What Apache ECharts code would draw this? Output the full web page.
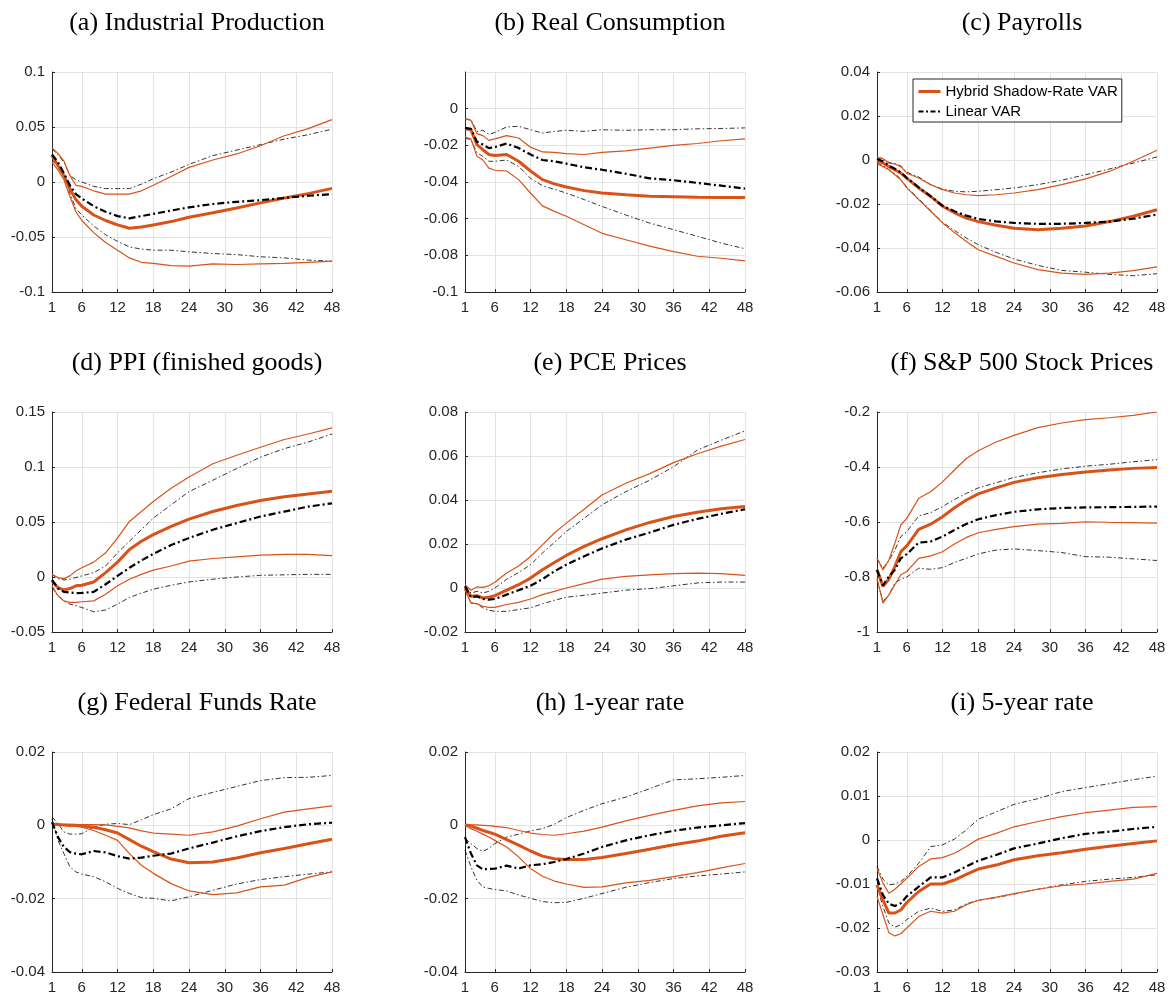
<!DOCTYPE html>
<html>
<head>
<meta charset="utf-8">
<title>Impulse responses</title>
<script src="https://cdn.jsdelivr.net/npm/echarts@6/dist/echarts.min.js"></script>
<style>
  html, body { margin: 0; padding: 0; background: #fff; }
  #chart { width: 1172px; height: 999px; }
</style>
</head>
<body>
<div id="chart"></div>
<script>
const horizons = [1, 2, 3, 4, 5, 6, 8, 10, 12, 14, 16, 18, 21, 24, 28, 32, 36, 40, 44, 48];
const xTicks = [1, 6, 12, 18, 24, 30, 36, 42, 48];

const titles = [
  '(a) Industrial Production', '(b) Real Consumption', '(c) Payrolls',
  '(d) PPI (finished goods)', '(e) PCE Prices', '(f) S&P 500 Stock Prices',
  '(g) Federal Funds Rate', '(h) 1-year rate', '(i) 5-year rate'
];

// y axis ranges: [min, max, step]
const yRanges = [
  [-0.1, 0.1, 0.05], [-0.1, 0.02, 0.02], [-0.06, 0.04, 0.02],
  [-0.05, 0.15, 0.05], [-0.02, 0.08, 0.02], [-1, -0.2, 0.2],
  [-0.04, 0.02, 0.02], [-0.04, 0.02, 0.02], [-0.03, 0.02, 0.01]
];

// (a) Industrial Production
const ipHybrid   = [0.024, 0.015, 0.006, -0.006, -0.016, -0.022, -0.030, -0.035, -0.039, -0.042, -0.041, -0.039, -0.036, -0.032, -0.028, -0.0236, -0.019, -0.0145, -0.0106, -0.0058];
const ipHybridHi = [0.031, 0.026, 0.019, 0.006, -0.003, -0.004, -0.008, -0.011, -0.011, -0.011, -0.008, -0.003, 0.005, 0.0133, 0.020, 0.0255, 0.033, 0.042, 0.0485, 0.0567];
const ipHybridLo = [0.018, 0.011, 0.002, -0.013, -0.027, -0.035, -0.046, -0.055, -0.062, -0.069, -0.073, -0.074, -0.076, -0.0765, -0.0745, -0.075, -0.0745, -0.074, -0.073, -0.072];
const ipLinear   = [0.025, 0.018, 0.008, -0.003, -0.011, -0.015, -0.022, -0.027, -0.031, -0.033, -0.031, -0.029, -0.026, -0.023, -0.020, -0.018, -0.0165, -0.0145, -0.0125, -0.011];
const ipLinearHi = [0.030, 0.025, 0.018, 0.006, 0.002, 0.000, -0.004, -0.006, -0.006, -0.006, -0.002, 0.003, 0.009, 0.016, 0.024, 0.029, 0.034, 0.039, 0.043, 0.048];
const ipLinearLo = [0.020, 0.014, 0.005, -0.010, -0.024, -0.030, -0.040, -0.048, -0.054, -0.059, -0.061, -0.062, -0.062, -0.0635, -0.065, -0.066, -0.068, -0.069, -0.071, -0.072];

// (b) Real Consumption
const rcHybrid   = [-0.011, -0.0115, -0.0196, -0.0224, -0.025, -0.0255, -0.025, -0.0287, -0.034, -0.0387, -0.041, -0.0427, -0.0447, -0.046, -0.047, -0.0478, -0.048, -0.0483, -0.0484, -0.0484];
const rcHybridHi = [-0.0056, -0.0064, -0.0136, -0.0147, -0.0173, -0.0165, -0.0147, -0.016, -0.021, -0.0236, -0.0238, -0.0245, -0.025, -0.0238, -0.023, -0.0215, -0.020, -0.019, -0.0175, -0.0165];
const rcHybridLo = [-0.0155, -0.0165, -0.026, -0.028, -0.0324, -0.0336, -0.034, -0.0387, -0.046, -0.053, -0.056, -0.0587, -0.0633, -0.068, -0.0715, -0.075, -0.078, -0.0805, -0.0816, -0.083];
const rcLinear   = [-0.0105, -0.011, -0.018, -0.0196, -0.0215, -0.021, -0.019, -0.0215, -0.025, -0.028, -0.0287, -0.030, -0.032, -0.0333, -0.0355, -0.038, -0.039, -0.0405, -0.042, -0.0436];
const rcLinearHi = [-0.0056, -0.006, -0.0124, -0.0118, -0.014, -0.013, -0.010, -0.0096, -0.0115, -0.0133, -0.0124, -0.0118, -0.0124, -0.0115, -0.0118, -0.0115, -0.0115, -0.011, -0.0108, -0.0105];
const rcLinearLo = [-0.016, -0.017, -0.024, -0.026, -0.0287, -0.0287, -0.028, -0.0315, -0.038, -0.042, -0.044, -0.046, -0.0496, -0.0533, -0.058, -0.0624, -0.066, -0.0696, -0.0733, -0.0764];

// (c) Payrolls
const prHybrid   = [-0.0003, -0.0014, -0.003, -0.0044, -0.006, -0.0082, -0.0127, -0.0165, -0.021, -0.024, -0.0264, -0.028, -0.0297, -0.031, -0.0317, -0.031, -0.030, -0.028, -0.0256, -0.0226];
const prHybridHi = [0.0012, 0.0006, -0.0014, -0.0018, -0.003, -0.006, -0.0082, -0.0112, -0.0135, -0.015, -0.0158, -0.0162, -0.0158, -0.015, -0.0135, -0.0112, -0.0086, -0.0052, -0.0006, 0.0044];
const prHybridLo = [-0.0017, -0.003, -0.0044, -0.0067, -0.009, -0.0127, -0.018, -0.0233, -0.0286, -0.033, -0.037, -0.0408, -0.0438, -0.0468, -0.0498, -0.0514, -0.052, -0.0514, -0.0503, -0.0486];
const prLinear   = [0.0005, -0.0006, -0.0026, -0.004, -0.0056, -0.0082, -0.0124, -0.0165, -0.0208, -0.0233, -0.0253, -0.0268, -0.0279, -0.0286, -0.029, -0.029, -0.0286, -0.028, -0.0267, -0.0248];
const prLinearHi = [0.0012, 0.0006, -0.0011, -0.0017, -0.0026, -0.0056, -0.0077, -0.0112, -0.0132, -0.0142, -0.0145, -0.0142, -0.0135, -0.0127, -0.0112, -0.0092, -0.0067, -0.0041, -0.0014, 0.0014];
const prLinearLo = [-0.0014, -0.0026, -0.0044, -0.0062, -0.0086, -0.0124, -0.0176, -0.0229, -0.0283, -0.032, -0.0355, -0.0385, -0.042, -0.045, -0.0479, -0.0502, -0.051, -0.052, -0.0526, -0.0517];

// (d) PPI (finished goods)
const ppHybrid   = [-0.0036, -0.0096, -0.0117, -0.0105, -0.008, -0.0075, -0.0045, 0.004, 0.0135, 0.025, 0.0325, 0.0385, 0.046, 0.0526, 0.0595, 0.065, 0.0695, 0.073, 0.0755, 0.078];
const ppHybridHi = [0.0024, -0.0005, -0.0015, 0.001, 0.0054, 0.0084, 0.0135, 0.022, 0.0355, 0.0505, 0.0595, 0.0686, 0.0806, 0.091, 0.103, 0.1107, 0.118, 0.125, 0.130, 0.1356];
const ppHybridLo = [-0.008, -0.017, -0.0217, -0.023, -0.023, -0.0225, -0.0217, -0.0156, -0.008, -0.002, 0.0024, 0.0063, 0.010, 0.0144, 0.0168, 0.0183, 0.0198, 0.0205, 0.0205, 0.0195];
const ppLinear   = [-0.0027, -0.0105, -0.0135, -0.0141, -0.0147, -0.0145, -0.0135, -0.0066, 0.001, 0.0084, 0.015, 0.021, 0.029, 0.0355, 0.043, 0.049, 0.055, 0.0595, 0.064, 0.067];
const ppLinearHi = [0.0024, -0.0015, -0.0027, -0.002, -0.0005, 0.001, 0.004, 0.010, 0.022, 0.0325, 0.043, 0.0535, 0.0656, 0.0776, 0.088, 0.0986, 0.109, 0.1167, 0.1227, 0.130];
const ppLinearLo = [-0.0096, -0.017, -0.0217, -0.0247, -0.026, -0.0277, -0.0316, -0.030, -0.0247, -0.0186, -0.0147, -0.0111, -0.0075, -0.0045, -0.002, 0.0, 0.0015, 0.002, 0.0024, 0.0024];

// (e) PCE Prices
const pcHybrid   = [0.0, -0.0038, -0.0035, -0.0045, -0.0042, -0.0035, -0.001, 0.0015, 0.0045, 0.0083, 0.0116, 0.0148, 0.0189, 0.0224, 0.0264, 0.0298, 0.0325, 0.0344, 0.036, 0.037];
const pcHybridHi = [0.0015, -0.001, 0.0005, 0.0003, 0.001, 0.0026, 0.0068, 0.010, 0.0143, 0.0196, 0.025, 0.0295, 0.0358, 0.0423, 0.0476, 0.052, 0.057, 0.061, 0.0645, 0.0675];
const pcHybridLo = [-0.0008, -0.0068, -0.0072, -0.0083, -0.0088, -0.0088, -0.0075, -0.0065, -0.005, -0.003, -0.0015, 0.0, 0.002, 0.004, 0.0053, 0.006, 0.0065, 0.0068, 0.0065, 0.0057];
const pcLinear   = [0.0008, -0.0042, -0.0038, -0.005, -0.0053, -0.005, -0.003, -0.001, 0.001, 0.004, 0.0076, 0.0106, 0.0144, 0.018, 0.022, 0.0252, 0.0287, 0.0314, 0.0337, 0.0358];
const pcLinearHi = [0.0008, -0.0023, -0.0015, -0.0023, -0.0015, 0.0, 0.004, 0.007, 0.0106, 0.0159, 0.0207, 0.0257, 0.0317, 0.0378, 0.0438, 0.049, 0.0551, 0.0627, 0.0672, 0.0714];
const pcLinearLo = [-0.0011, -0.0068, -0.0071, -0.009, -0.0101, -0.0106, -0.0106, -0.0098, -0.009, -0.0072, -0.0056, -0.0042, -0.0033, -0.0023, -0.001, -0.0003, 0.001, 0.0023, 0.0027, 0.0027];

// (f) S&P 500 Stock Prices
const spHybrid   = [-0.774, -0.834, -0.808, -0.762, -0.708, -0.687, -0.627, -0.608, -0.581, -0.548, -0.520, -0.498, -0.476, -0.456, -0.439, -0.427, -0.418, -0.411, -0.405, -0.402];
const spHybridHi = [-0.732, -0.774, -0.738, -0.677, -0.611, -0.587, -0.514, -0.490, -0.454, -0.411, -0.369, -0.341, -0.309, -0.285, -0.257, -0.240, -0.228, -0.221, -0.212, -0.200];
const spHybridLo = [-0.804, -0.895, -0.865, -0.828, -0.792, -0.780, -0.732, -0.723, -0.708, -0.680, -0.656, -0.639, -0.627, -0.617, -0.608, -0.605, -0.599, -0.601, -0.602, -0.604];
const spLinear   = [-0.774, -0.831, -0.798, -0.774, -0.732, -0.717, -0.675, -0.671, -0.653, -0.629, -0.607, -0.590, -0.575, -0.563, -0.554, -0.549, -0.547, -0.546, -0.545, -0.544];
const spLinearHi = [-0.732, -0.768, -0.740, -0.702, -0.653, -0.635, -0.578, -0.566, -0.544, -0.518, -0.496, -0.476, -0.457, -0.438, -0.421, -0.407, -0.397, -0.390, -0.381, -0.373];
const spLinearLo = [-0.810, -0.889, -0.865, -0.822, -0.808, -0.800, -0.768, -0.772, -0.766, -0.747, -0.732, -0.716, -0.702, -0.698, -0.704, -0.711, -0.726, -0.728, -0.734, -0.740];

// (g) Federal Funds Rate
const ffHybrid   = [0.0003, 0.0002, 0.0001, 0.0, 0.0, -0.0001, -0.0005, -0.0012, -0.0021, -0.0039, -0.0057, -0.0072, -0.0092, -0.0102, -0.010, -0.0089, -0.0075, -0.0063, -0.005, -0.0038];
const ffHybridHi = [0.0003, 0.0003, 0.0003, 0.0003, 0.0002, 0.0002, 0.0002, 0.0001, -0.0003, -0.0007, -0.0015, -0.0021, -0.0024, -0.0027, -0.0018, -0.0002, 0.0018, 0.0036, 0.0045, 0.0053];
const ffHybridLo = [0.0, 0.0, 0.0, -0.0002, -0.0003, -0.0005, -0.0014, -0.0027, -0.0041, -0.0077, -0.0109, -0.0131, -0.0159, -0.0179, -0.0189, -0.0184, -0.0168, -0.0163, -0.0142, -0.0127];
const ffLinear   = [0.0009, -0.0032, -0.0059, -0.0073, -0.0077, -0.0079, -0.007, -0.0074, -0.0084, -0.0091, -0.0088, -0.0083, -0.0077, -0.0063, -0.0047, -0.003, -0.0016, -0.0005, 0.0003, 0.0007];
const ffLinearHi = [0.0023, 0.0005, -0.0018, -0.0024, -0.0024, -0.0023, -0.0005, 0.0003, 0.0005, 0.0002, 0.0015, 0.0029, 0.0045, 0.0073, 0.009, 0.0106, 0.0122, 0.013, 0.0131, 0.0136];
const ffLinearLo = [0.0018, -0.0041, -0.0077, -0.0113, -0.0127, -0.0133, -0.014, -0.0154, -0.0172, -0.0186, -0.0197, -0.0199, -0.0206, -0.0195, -0.0177, -0.016, -0.0148, -0.014, -0.0133, -0.0127];

// (h) 1-year rate
const y1Hybrid   = [0.0002, -0.0002, -0.0008, -0.0014, -0.0019, -0.0024, -0.0039, -0.0054, -0.007, -0.0084, -0.0091, -0.0093, -0.0093, -0.0088, -0.0077, -0.0065, -0.0053, -0.0043, -0.003, -0.002];
const y1HybridHi = [0.0002, 0.0001, 0.0001, 0.0, -0.0001, -0.0003, -0.0006, -0.0014, -0.0021, -0.0025, -0.0027, -0.0023, -0.0016, -0.0005, 0.0012, 0.0027, 0.0041, 0.0053, 0.0061, 0.0065];
const y1HybridLo = [0.0, -0.0009, -0.0016, -0.0024, -0.0032, -0.0041, -0.0059, -0.0086, -0.0118, -0.0139, -0.0152, -0.016, -0.0169, -0.0168, -0.0157, -0.015, -0.014, -0.0129, -0.0116, -0.0104];
const y1Linear   = [-0.0032, -0.0077, -0.0109, -0.012, -0.0119, -0.0118, -0.011, -0.0118, -0.0109, -0.0106, -0.010, -0.0092, -0.0077, -0.0059, -0.0041, -0.0027, -0.0015, -0.0006, 0.0, 0.0006];
const y1LinearHi = [-0.0036, -0.005, -0.0063, -0.0071, -0.0063, -0.005, -0.0032, -0.0024, -0.0015, -0.0009, 0.0003, 0.0021, 0.0041, 0.0059, 0.0077, 0.010, 0.0124, 0.0127, 0.0131, 0.0136];
const y1LinearLo = [-0.0068, -0.0113, -0.015, -0.0168, -0.0172, -0.0175, -0.0179, -0.019, -0.0199, -0.0208, -0.0211, -0.021, -0.0199, -0.0186, -0.0169, -0.0156, -0.0145, -0.0138, -0.0133, -0.0127];

// (i) 5-year rate
const y5Hybrid   = [-0.0102, -0.0136, -0.0166, -0.0166, -0.0159, -0.0142, -0.0117, -0.010, -0.010, -0.0091, -0.0078, -0.0066, -0.0057, -0.0045, -0.0036, -0.0029, -0.0021, -0.0014, -0.0008, -0.0002];
const y5HybridHi = [-0.0064, -0.0098, -0.0121, -0.0112, -0.010, -0.0087, -0.006, -0.0043, -0.004, -0.003, -0.0015, 0.0002, 0.0015, 0.003, 0.0042, 0.0053, 0.0062, 0.0068, 0.0074, 0.0076];
const y5HybridLo = [-0.0128, -0.017, -0.0211, -0.0218, -0.0213, -0.020, -0.0174, -0.0162, -0.0166, -0.0162, -0.0147, -0.0137, -0.013, -0.0122, -0.0112, -0.0104, -0.010, -0.0094, -0.0089, -0.0076];
const y5Linear   = [-0.0087, -0.0125, -0.0145, -0.015, -0.0144, -0.0128, -0.0106, -0.0085, -0.0085, -0.0074, -0.006, -0.0047, -0.0034, -0.0019, -0.0008, 0.0004, 0.0014, 0.0019, 0.0025, 0.003];
const y5LinearHi = [-0.006, -0.0089, -0.0102, -0.010, -0.0094, -0.0083, -0.0053, -0.0015, -0.0011, 0.0002, 0.0023, 0.0047, 0.0064, 0.0081, 0.0094, 0.011, 0.0119, 0.0128, 0.0137, 0.0145];
const y5LinearLo = [-0.0106, -0.0151, -0.0189, -0.0198, -0.0193, -0.0181, -0.0162, -0.0155, -0.0162, -0.0159, -0.0145, -0.0137, -0.0131, -0.0123, -0.0112, -0.0102, -0.0094, -0.0089, -0.0085, -0.0079];

const panelData = [
  [ipHybrid, ipHybridLo, ipHybridHi, ipLinear, ipLinearLo, ipLinearHi],
  [rcHybrid, rcHybridLo, rcHybridHi, rcLinear, rcLinearLo, rcLinearHi],
  [prHybrid, prHybridLo, prHybridHi, prLinear, prLinearLo, prLinearHi],
  [ppHybrid, ppHybridLo, ppHybridHi, ppLinear, ppLinearLo, ppLinearHi],
  [pcHybrid, pcHybridLo, pcHybridHi, pcLinear, pcLinearLo, pcLinearHi],
  [spHybrid, spHybridLo, spHybridHi, spLinear, spLinearLo, spLinearHi],
  [ffHybrid, ffHybridLo, ffHybridHi, ffLinear, ffLinearLo, ffLinearHi],
  [y1Hybrid, y1HybridLo, y1HybridHi, y1Linear, y1LinearLo, y1LinearHi],
  [y5Hybrid, y5HybridLo, y5HybridHi, y5Linear, y5LinearLo, y5LinearHi]
];

const ORANGE = '#D95319';
const AXIS = '#262626';
const GRIDLINE = '#e3e3e3';
const colLeft = [52, 465, 877];
const rowTop = [72, 412, 752];
const plotW = 280, plotH = 220;

const styles = {
  hybrid:     { color: ORANGE, width: 3 },
  hybridBand: { color: ORANGE, width: 1.2 },
  linear:     { color: '#000', width: 2.2, type: [7, 3, 2, 3] },
  linearBand: { color: '#000', width: 0.8, type: [5, 2.5, 1.5, 2.5] }
};

const chart = echarts.init(document.getElementById('chart'), null, { renderer: 'canvas' });

const grid = [], xAxis = [], yAxis = [], title = [], series = [];

function addLine(name, idx, values, style, z) {
  series.push({
    name: name,
    type: 'line',
    xAxisIndex: idx,
    yAxisIndex: idx,
    data: horizons.map((h, i) => [h, values[i]]),
    symbol: 'none',
    silent: true,
    z: z,
    itemStyle: { color: style.color },
    lineStyle: style
  });
}

const tickFont = { color: AXIS, fontSize: 15, fontFamily: 'Liberation Sans' };

for (let i = 0; i < 9; i++) {
  const left = colLeft[i % 3];
  const top = rowTop[Math.floor(i / 3)];
  grid.push({ left: left, top: top, width: plotW, height: plotH, containLabel: false });
  title.push({
    text: titles[i],
    left: left + plotW / 2,
    top: top - 54,
    textAlign: 'center',
    textVerticalAlign: 'middle',
    textStyle: { fontFamily: 'Liberation Serif', fontSize: 26, fontWeight: 'normal', color: '#000' }
  });
  xAxis.push({
    type: 'value', gridIndex: i, min: 1, max: 48,
    axisLine: { onZero: false, lineStyle: { color: AXIS, width: 1 } },
    axisTick: { show: true, inside: true, length: 3, customValues: xTicks, lineStyle: { color: AXIS } },
    axisLabel: Object.assign({ customValues: xTicks, margin: 8 }, tickFont),
    splitLine: { show: true, customValues: xTicks, lineStyle: { color: GRIDLINE, width: 1 } }
  });
  const r = yRanges[i];
  yAxis.push({
    type: 'value', gridIndex: i, min: r[0], max: r[1], interval: r[2],
    axisLine: { show: true, onZero: false, lineStyle: { color: AXIS, width: 1 } },
    axisTick: { show: true, inside: true, length: 3, lineStyle: { color: AXIS } },
    axisLabel: Object.assign({ margin: 7, showMaxLabel: i !== 1 }, tickFont),
    splitLine: { show: true, lineStyle: { color: GRIDLINE, width: 1 } }
  });
  const d = panelData[i];
  addLine('Hybrid Shadow-Rate VAR', i, d[0], styles.hybrid, 5);
  addLine('hybridLo' + i, i, d[1], styles.hybridBand, 4);
  addLine('hybridHi' + i, i, d[2], styles.hybridBand, 4);
  addLine('Linear VAR', i, d[3], styles.linear, 6);
  addLine('linearLo' + i, i, d[4], styles.linearBand, 3);
  addLine('linearHi' + i, i, d[5], styles.linearBand, 3);
}

chart.setOption({
  animation: false,
  backgroundColor: '#fff',
  title: title,
  grid: grid,
  xAxis: xAxis,
  yAxis: yAxis,
  legend: {
    data: [
      { name: 'Hybrid Shadow-Rate VAR', lineStyle: { width: 3, color: ORANGE } },
      { name: 'Linear VAR', lineStyle: { width: 2.2, color: '#000', type: [5, 2.5, 2, 2.5] } }
    ],
    orient: 'vertical',
    left: 913,
    top: 79,
    itemWidth: 22,
    itemHeight: 14,
    itemGap: 5,
    padding: [5, 4, 3, 4],
    backgroundColor: '#fff',
    borderColor: AXIS,
    borderWidth: 1,
    borderRadius: 0,
    selectedMode: false,
    itemStyle: { opacity: 0 },
    textStyle: { fontFamily: 'Liberation Sans', fontSize: 15, color: '#000' }
  },
  series: series
});
</script>
</body>
</html>
